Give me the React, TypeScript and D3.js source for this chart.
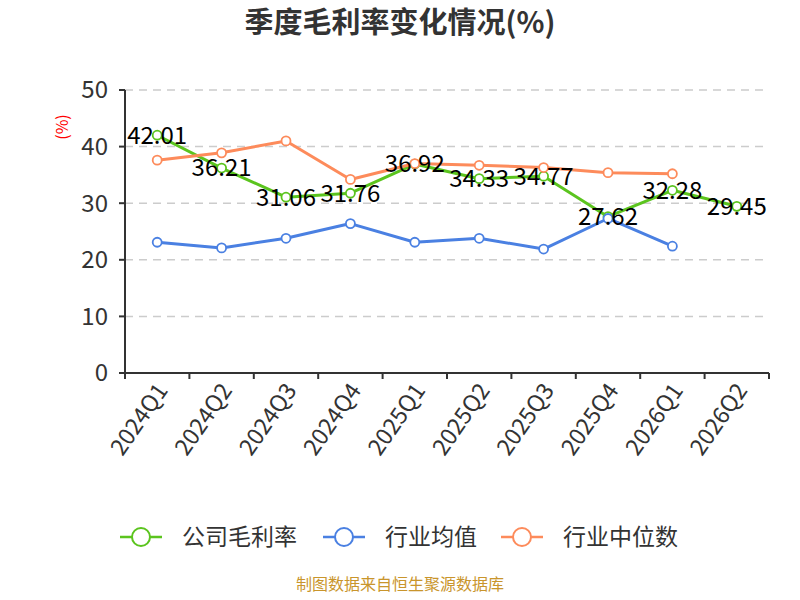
import React from 'react';
import * as d3 from 'd3';

const quarters = ['2024Q1', '2024Q2', '2024Q3', '2024Q4', '2025Q1', '2025Q2', '2025Q3', '2025Q4', '2026Q1', '2026Q2'];
const companyMargin = [42.01, 36.21, 31.06, 31.76, 36.92, 34.33, 34.77, 27.62, 32.28, 29.45];
const industryAvg = [23.1, 22.1, 23.8, 26.4, 23.1, 23.8, 21.9, 27.3, 22.4];
const industryMedian = [37.6, 38.9, 41.0, 34.2, 37.0, 36.7, 36.3, 35.4, 35.2];
const yTicks = [0, 10, 20, 30, 40, 50];

const seriesList = [
  { name: '公司毛利率', values: companyMargin, color: '#5bc41e' },
  { name: '行业均值', values: industryAvg, color: '#4a80e2' },
  { name: '行业中位数', values: industryMedian, color: '#fd8b5b' },
];

const FONT = '"Noto Sans CJK SC", "Noto Sans", sans-serif';

export default function App() {
  const width = 800;
  const height = 600;
  const margin = { top: 90, right: 31, bottom: 227, left: 125 };
  const innerW = width - margin.left - margin.right;
  const innerH = height - margin.top - margin.bottom;

  const x = d3.scaleBand().domain(quarters).range([0, innerW]);
  const y = d3.scaleLinear().domain([0, 50]).range([innerH, 0]);
  const cx = (q: string) => (x(q) || 0) + x.bandwidth() / 2;

  const line = d3.line<number>()
    .x((_, i) => cx(quarters[i]))
    .y(d => y(d));

  const legendX = [120, 323, 501];

  return (
    <svg width={width} height={height} style={{ position: 'absolute', left: 0, top: 0, background: '#fff' }} fontFamily={FONT}>
      <text x={400} y={33} textAnchor="middle" fontSize={29} fontWeight="bold" fill="#333">季度毛利率变化情况(%)</text>

      <g transform={`translate(${margin.left},${margin.top})`}>
        {/* grid */}
        {yTicks.filter(t => t > 0).map(t => (
          <line key={t} x1={0} x2={innerW} y1={y(t)} y2={y(t)} stroke="#ccc" strokeWidth={1.5} strokeDasharray="8,6" />
        ))}

        {/* y axis */}
        <line x1={0} x2={0} y1={0} y2={innerH} stroke="#333" strokeWidth={2} />
        {yTicks.map(t => (
          <g key={t}>
            <line x1={-6} x2={0} y1={y(t)} y2={y(t)} stroke="#333" strokeWidth={2} />
            <text x={-17} y={y(t)} dy="0.35em" textAnchor="end" fontSize={24} fill="#333">{t}</text>
          </g>
        ))}
        <text transform={`translate(${-63},${37}) rotate(-90)`} textAnchor="middle" dy="0.35em" fontSize={16} fill="#f00">(%)</text>

        {/* x axis */}
        <line x1={0} x2={innerW} y1={innerH} y2={innerH} stroke="#333" strokeWidth={2} />
        {quarters.map(q => (
          <line key={q} x1={x(q) || 0} x2={x(q) || 0} y1={innerH} y2={innerH + 6} stroke="#333" strokeWidth={2} />
        ))}
        <line x1={innerW} x2={innerW} y1={innerH} y2={innerH + 6} stroke="#333" strokeWidth={2} />
        {quarters.map(q => (
          <text key={q} transform={`translate(${cx(q) + 5},${innerH + 13}) rotate(-55)`} textAnchor="end" dy="0.35em" fontSize={23} fill="#333">{q}</text>
        ))}

        {/* series */}
        {seriesList.map(s => (
          <g key={s.name}>
            <path d={line(s.values) || ''} fill="none" stroke={s.color} strokeWidth={3} strokeLinejoin="round" />
            {s.values.map((v, i) => (
              <circle key={i} cx={cx(quarters[i])} cy={y(v)} r={4.5} fill="#fff" stroke={s.color} strokeWidth={1.8} />
            ))}
          </g>
        ))}

        {/* data labels */}
        {companyMargin.map((v, i) => (
          <text key={i} x={cx(quarters[i])} y={y(v)} dy="0.35em" textAnchor="middle" fontSize={24} fill="#000">{v.toFixed(2)}</text>
        ))}
      </g>

      {/* legend */}
      {seriesList.map((s, i) => (
        <g key={s.name} transform={`translate(${legendX[i]},537)`}>
          <line x1={0} x2={42} y1={0} y2={0} stroke={s.color} strokeWidth={2.5} />
          <circle cx={21} cy={0} r={9} fill="#fff" stroke={s.color} strokeWidth={2} />
          <text x={62} y={0} dy="0.35em" fontSize={23} fill="#333">{s.name}</text>
        </g>
      ))}

      <text x={400} y={590} textAnchor="middle" fontSize={16} fill="#c9952c">制图数据来自恒生聚源数据库</text>
    </svg>
  );
}
